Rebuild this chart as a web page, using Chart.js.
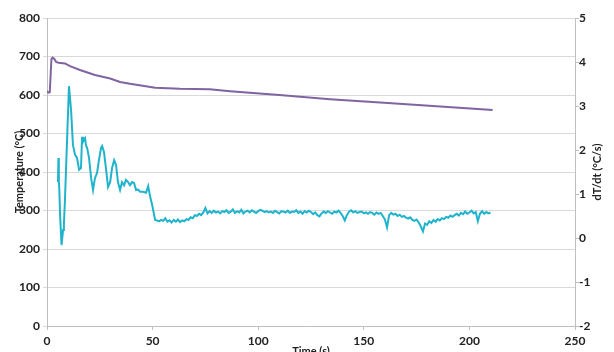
<!DOCTYPE html>
<html>
<head>
<meta charset="utf-8">
<script src="https://cdn.jsdelivr.net/npm/chart.js@4/dist/chart.umd.min.js"></script>
<style>
  html, body { margin: 0; padding: 0; overflow: hidden; background: #fff; }
  #wrap { width: 614px; height: 362px; }
</style>
</head>
<body>
<div id="wrap"><canvas id="myChart"></canvas></div>
<script>
// temperature trace (left axis)
const tempTime = [0, 0.8, 1.3, 1.7, 2.1, 2.6, 3.4, 4.3, 5.5, 8.5, 10.9, 15.6, 22.7, 29.9, 34.6, 39.3, 51.2, 63, 77, 86.7, 110, 134, 165, 211];
const tempValue = [610, 606, 607, 650, 693, 697, 694, 686, 684, 682, 675, 665, 652, 643, 634, 629, 619, 616, 615, 610, 600, 589, 578, 561];

// cooling rate trace (right axis)
const rateTime = [
  5.2, 5.4, 5.6, 5.8, 6.2, 6.9, 7.6, 8.0, 8.5, 9.5, 10.4, 11.4, 12.3, 13.3, 14.2, 15.2, 16.1, 16.6, 17.0, 17.5,
  18.0, 18.5, 19.0, 19.9, 20.9, 21.8, 22.7, 23.7, 24.6, 25.6, 26.1, 27.0, 28.0, 28.9, 29.9, 30.8, 31.8, 32.7, 33.6, 34.6,
  35.5, 36.5, 37.4, 38.4, 39.3, 40.3, 41.2, 42.2, 43.1, 44.1, 45.5, 46.9, 47.9, 48.8, 49.8, 51.2,
  52, 53, 54, 55, 56, 57, 58, 59, 60, 61, 62, 63, 64, 65, 66, 67, 68, 69, 70, 71,
  72, 73, 74, 75, 76, 77, 78, 79, 80, 81, 82, 83, 84, 85, 86, 87, 88, 89, 90, 91,
  92, 93, 94, 95, 96, 97, 98, 99, 100, 101, 102, 103, 104, 105, 106, 107, 108, 109, 110, 111,
  112, 113, 114, 115, 116, 117, 118, 119, 120, 121, 122, 123, 124, 125, 126, 127, 128, 129, 130, 131,
  132, 133, 134, 135, 136, 137, 138, 139, 140, 141, 142, 143, 144, 145, 146, 147, 148, 149, 150, 151,
  152, 153, 154, 155, 156, 157, 158, 159, 160, 161, 162, 163, 164, 165, 166, 167, 168, 169, 170, 171,
  172, 173, 174, 175, 176, 177, 178, 179, 180, 181, 182, 183, 184, 185, 186, 187, 188, 189, 190, 191,
  192, 193, 194, 195, 196, 197, 198, 199, 200, 201, 202, 203, 204, 205, 206, 207, 208, 209, 210
];
const rateValue = [
  1.27, 1.82, 1.30, 1.15, 0.52, -0.16, 0.18, 0.30, 0.86, 2.23, 3.45, 2.90, 2.11, 1.89, 1.82, 1.55, 1.59, 2.30, 2.18, 2.23,
  2.27, 2.10, 2.05, 1.82, 1.36, 1.09, 1.36, 1.48, 1.77, 2.05, 2.09, 1.95, 1.55, 1.16, 1.27, 1.59, 1.77, 1.66, 1.27, 1.09,
  1.27, 1.20, 1.32, 1.27, 1.20, 1.27, 1.25, 1.09, 1.10, 1.05, 1.05, 1.03, 1.18, 0.95, 0.75, 0.41,
  0.40, 0.38, 0.41, 0.39, 0.45, 0.37, 0.40, 0.35, 0.41, 0.37, 0.42, 0.36, 0.40, 0.38, 0.43, 0.41, 0.47, 0.45, 0.52, 0.50,
  0.55, 0.52, 0.58, 0.68, 0.56, 0.61, 0.57, 0.62, 0.58, 0.60, 0.56, 0.61, 0.59, 0.63, 0.57, 0.60, 0.65, 0.57, 0.61, 0.58,
  0.64, 0.56, 0.60, 0.62, 0.58, 0.63, 0.60, 0.57, 0.61, 0.64, 0.62, 0.59, 0.61, 0.58, 0.60, 0.57, 0.62, 0.59, 0.56, 0.61,
  0.60, 0.58, 0.62, 0.57, 0.60, 0.59, 0.63, 0.57, 0.60, 0.55, 0.61, 0.58, 0.62, 0.59, 0.54, 0.58, 0.52, 0.49, 0.56, 0.60,
  0.57, 0.61, 0.58, 0.55, 0.60, 0.58, 0.62, 0.57, 0.50, 0.40, 0.52, 0.60, 0.63, 0.58, 0.61, 0.57, 0.59, 0.60, 0.56, 0.58,
  0.55, 0.59, 0.57, 0.53, 0.58, 0.55, 0.57, 0.50, 0.42, 0.24, 0.52, 0.57, 0.53, 0.55, 0.50, 0.53, 0.48, 0.50, 0.46, 0.44,
  0.47, 0.41, 0.39, 0.42, 0.35, 0.26, 0.15, 0.33, 0.30, 0.38, 0.34, 0.41, 0.37, 0.43, 0.40, 0.45, 0.43, 0.48, 0.46, 0.51,
  0.48, 0.52, 0.55, 0.51, 0.57, 0.54, 0.60, 0.55, 0.58, 0.62, 0.56, 0.59, 0.38, 0.55, 0.61, 0.55, 0.59, 0.56, 0.58
];

const tickFont = { family: 'Lato', size: 12, weight: 'bold' };
const titleFont = { family: 'Lato', size: 11, weight: 'bold' };
const axisGray = '#bfbfbf';

// right axis title reads bottom-to-top like the original
const rightTitle = {
  id: 'rightTitle',
  afterDraw(chart) {
    const c = chart.ctx;
    const area = chart.chartArea;
    c.save();
    c.translate(597, (area.top + area.bottom) / 2);
    c.rotate(-Math.PI / 2);
    c.font = 'bold 11px Lato';
    c.fillStyle = '#222';
    c.textAlign = 'center';
    c.textBaseline = 'middle';
    c.fillText('dT/dt (°C/s)', 0, 0);
    c.restore();
  }
};

new Chart(document.getElementById('myChart'), {
  type: 'line',
  data: {
    datasets: [
      {
        label: 'Temperature',
        data: tempTime.map((t, i) => ({ x: t, y: tempValue[i] })),
        borderColor: '#8064A2',
        borderWidth: 2,
        pointRadius: 0,
        tension: 0,
        yAxisID: 'y',
      },
      {
        label: 'dT/dt',
        data: rateTime.map((t, i) => ({ x: t, y: rateValue[i] })),
        borderColor: '#1FB4CC',
        borderWidth: 2,
        pointRadius: 0,
        tension: 0,
        yAxisID: 'y1',
      },
    ],
  },
  options: {
    responsive: true,
    maintainAspectRatio: false,
    animation: false,
    layout: { padding: { top: 18, left: 0, right: 0, bottom: 0 } },
    plugins: { legend: { display: false }, tooltip: { enabled: false } },
    scales: {
      x: {
        type: 'linear',
        min: 0,
        max: 250,
        ticks: { stepSize: 50, font: tickFont, color: '#222', padding: 4, maxRotation: 0 },
        grid: { drawOnChartArea: false, color: axisGray, tickLength: 4 },
        border: { color: axisGray },
        title: { display: true, text: 'Time (s)', font: titleFont, color: '#222', padding: { top: 0, bottom: 4 } },
        afterFit: (s) => { s.height = 36; },
      },
      y: {
        position: 'left',
        min: 0,
        max: 800,
        ticks: { stepSize: 100, font: tickFont, color: '#222', padding: 3 },
        grid: { color: '#d9d9d9', tickLength: 4 },
        border: { color: axisGray },
        title: { display: true, text: 'Temperature (°C)', font: titleFont, color: '#222', padding: { top: 13, bottom: 0 } },
        afterFit: (s) => { s.width = 47; },
      },
      y1: {
        position: 'right',
        min: -2,
        max: 5,
        ticks: { stepSize: 1, font: tickFont, color: '#222', padding: 0 },
        grid: { drawOnChartArea: false, color: axisGray, tickLength: 4 },
        border: { color: axisGray },
        afterFit: (s) => { s.width = 39; },
      },
    },
  },
  plugins: [rightTitle],
});
</script>
</body>
</html>
